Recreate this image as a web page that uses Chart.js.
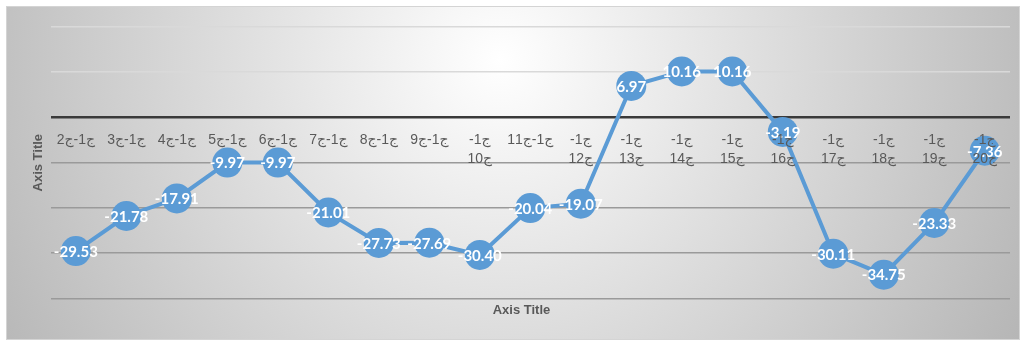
<!DOCTYPE html>
<html>
<head>
<meta charset="utf-8">
<script src="https://cdn.jsdelivr.net/npm/chart.js@4"></script>
<style>
  html, body { margin: 0; padding: 0; background: #fff; }
  canvas { display: block; }
</style>
</head>
<body>
<canvas id="myChart" width="1025" height="342"></canvas>
<script>
// category labels, written in the visual order shown on the chart
const categories = [
  "2ج-1ج", "3ج-1ج", "4ج-1ج", "5ج-1ج", "6ج-1ج", "7ج-1ج", "8ج-1ج", "9ج-1ج",
  ["-1ج", "10ج"], "11ج-1ج", ["-1ج", "12ج"], ["-1ج", "13ج"], ["-1ج", "14ج"],
  ["-1ج", "15ج"], ["-1ج", "16ج"], ["-1ج", "17ج"], ["-1ج", "18ج"],
  ["-1ج", "19ج"], ["-1ج", "20ج"],
];
const values = [
  -29.53, -21.78, -17.91, -9.97, -9.97, -21.01, -27.73, -27.69, -30.40,
  -20.04, -19.07, 6.97, 10.16, 10.16, -3.19, -30.11, -34.75, -23.33, -7.36,
];
const yMin = -40;
const yMax = 20;
const yStep = 10;
const axisTitle = "Axis Title";

// put a left-to-right mark between the characters so the bidi
// algorithm keeps them in the order they are typed
const LRM = "\u200E";
const keepOrder = (s) => LRM + s.split("").join(LRM) + LRM;
const wrapLabel = (label) =>
  Array.isArray(label) ? label.map(keepOrder) : keepOrder(label);

// gradient backdrop like the Excel chart area
const backdrop = {
  id: "backdrop",
  beforeDraw: (chart) => {
    const ctx = chart.ctx;
    ctx.save();
    ctx.fillStyle = "#ffffff";
    ctx.fillRect(0, 0, chart.width, chart.height);
    const g = ctx.createRadialGradient(500, 60, 0, 500, 60, 660);
    g.addColorStop(0, "#ffffff");
    g.addColorStop(1, "#adadad");
    ctx.fillStyle = g;
    ctx.fillRect(6, 6, 1014, 334);
    ctx.strokeStyle = "#d4d4d4";
    ctx.lineWidth = 1;
    ctx.strokeRect(6.5, 6.5, 1013, 333);
    ctx.restore();
  },
};

// white value labels inside the markers
const valueLabels = {
  id: "valueLabels",
  afterDatasetsDraw: (chart) => {
    const ctx = chart.ctx;
    const meta = chart.getDatasetMeta(0);
    ctx.save();
    ctx.font = "bold 15px Lato, 'Liberation Sans', sans-serif";
    ctx.fillStyle = "#ffffff";
    ctx.textAlign = "center";
    ctx.textBaseline = "middle";
    meta.data.forEach((pt, i) => {
      ctx.fillText(values[i].toFixed(2), pt.x, pt.y + 1);
    });
    ctx.restore();
  },
};

const ctx = document.getElementById("myChart").getContext("2d");
new Chart(ctx, {
  type: "line",
  data: {
    labels: categories.map(wrapLabel),
    datasets: [
      {
        data: values,
        borderColor: "#5b9bd5",
        backgroundColor: "#5b9bd5",
        borderWidth: 4,
        pointRadius: 15,
        pointHoverRadius: 15,
        pointBorderWidth: 0,
        tension: 0,
      },
    ],
  },
  options: {
    responsive: false,
    animation: false,
    devicePixelRatio: 1,
    layout: { padding: { left: 27, right: 9, top: 27, bottom: 24 } },
    plugins: {
      legend: { display: false },
      tooltip: { enabled: false },
      title: {
        display: true,
        position: "bottom",
        text: axisTitle,
        color: "#595959",
        font: { family: "'Liberation Sans', sans-serif", size: 13, weight: "bold" },
        padding: { top: 4, bottom: 0 },
      },
    },
    scales: {
      x: {
        type: "category",
        position: { y: 0 },
        offset: true,
        border: { display: false },
        grid: {
          display: true,
          drawOnChartArea: false,
          drawTicks: true,
          tickLength: 11,
          color: "rgba(0,0,0,0)",
        },
        ticks: {
          z: 1,
          color: "#595959",
          autoSkip: false,
          maxRotation: 0,
          minRotation: 0,
          font: { family: "'Liberation Sans', 'DejaVu Sans', sans-serif", size: 14, lineHeight: 1.3 },
        },
      },
      y: {
        min: yMin,
        max: yMax,
        border: { display: false },
        grid: {
          drawTicks: false,
          color: (c) =>
            c.tick.value === 0 ? "#3a3a3a" : c.tick.value > 0 ? "#d9d9d9" : "#9a9a9a",
          lineWidth: (c) => (c.tick.value === 0 ? 2.5 : 1.5),
        },
        ticks: { display: false, stepSize: yStep },
        title: {
          display: true,
          text: axisTitle,
          color: "#595959",
          font: { family: "'Liberation Sans', sans-serif", size: 13, weight: "bold" },
          padding: { top: 4, bottom: 4 },
        },
      },
    },
  },
  plugins: [backdrop, valueLabels],
});
</script>
</body>
</html>
